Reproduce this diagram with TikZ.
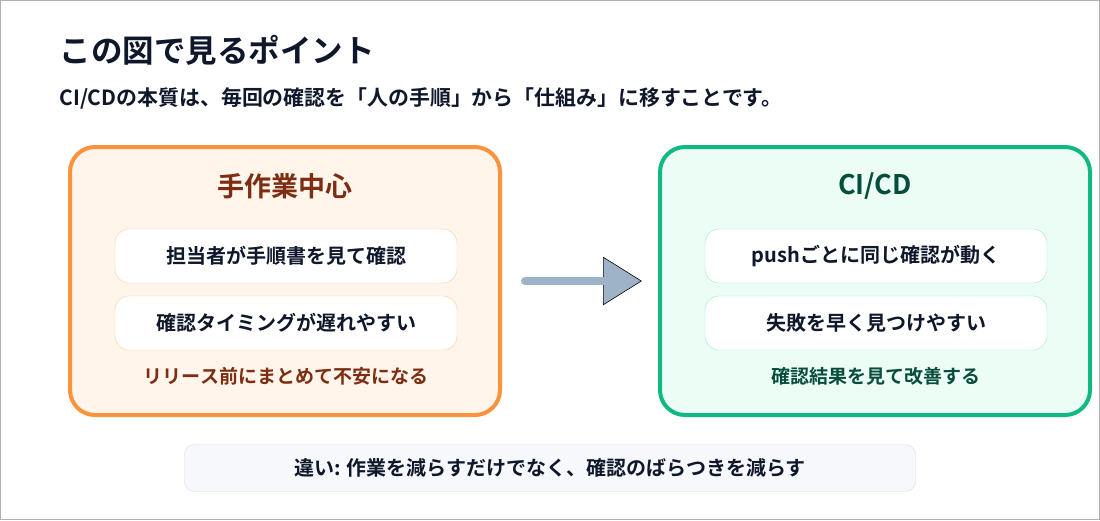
\documentclass[tikz,border=0pt]{standalone}
\usepackage{fontspec}
\setmainfont{Noto Sans CJK JP}[BoldFont={Noto Sans CJK JP Bold}]
\usetikzlibrary{shapes.geometric}
\definecolor{ink}{HTML}{0F172A}
\definecolor{orgline}{HTML}{FB923C}
\definecolor{orgfill}{HTML}{FFF5EB}
\definecolor{orgsoft}{HTML}{FDCB94}
\definecolor{orgtext}{HTML}{7C2D12}
\definecolor{grnline}{HTML}{10B981}
\definecolor{grnfill}{HTML}{ECFDF5}
\definecolor{grnsoft}{HTML}{98EBC8}
\definecolor{grntext}{HTML}{064E3B}
\definecolor{arrowgray}{HTML}{9FB3C8}
\definecolor{notefill}{HTML}{F6F8FB}
\definecolor{noteline}{HTML}{D3DBE5}
\tikzstyle{panel}=[
        rounded corners = 25pt,
        line width = 4pt,
        minimum width = 430pt,
        minimum height = 268pt
    ]
\tikzstyle{item}=[
        draw,
        fill = white,
        rounded corners = 14pt,
        minimum width = 342pt,
        minimum height = 54pt,
        text = ink,
        font = \bfseries\fontsize{20pt}{24pt}\selectfont
    ]

\begin{document}
\begin{tikzpicture}[x=1pt, y=-1pt, head/.style = {font = \bfseries\fontsize{27pt}{32pt}\selectfont},
        foot/.style = {font = \bfseries\fontsize{19pt}{23pt}\selectfont}]
        \useasboundingbox (0,0) rectangle (1100,520);
        \draw[gray!60] (0.5,0.5) rectangle (1099.5,519.5);
        \node[anchor=west, text=ink, font=\bfseries\fontsize{31.5pt}{36pt}\selectfont] (title) at (56,50) {この図で見るポイント};
        \node[anchor=west, text=ink, font=\bfseries\fontsize{20.9pt}{24pt}\selectfont] (sub) at (56,98) {CI/CDの本質は、毎回の確認を「人の手順」から「仕組み」に移すことです。};

        \node[panel, draw = orgline, fill = orgfill] (L) at (285,281) {};
        \node[head, text = orgtext] (Lh) at (285,186) {手作業中心};
        \node[item, draw = orgsoft] (L1) at (286,256) {担当者が手順書を見て確認};
        \node[item, draw = orgsoft] (L2) at (286,323) {確認タイミングが遅れやすい};
        \node[foot, text = orgtext] (Lf) at (286,376) {リリース前にまとめて不安になる};

        \node[panel, draw = grnline, fill = grnfill] (R) at (875,281) {};
        \node[head, text = grntext] (Rh) at (875,186) {CI/CD};
        \node[item, draw = grnsoft] (R1) at (876,256) {pushごとに同じ確認が動く};
        \node[item, draw = grnsoft] (R2) at (876,323) {失敗を早く見つけやすい};
        \node[foot, text = grntext] (Rf) at (876,376) {確認結果を見て改善する};

        \coordinate (start) at (525,281);
        \node[isosceles triangle, isosceles triangle apex angle = 64, draw, semithick, fill = arrowgray,
              inner sep = 0pt, minimum height = 38pt, anchor = west] (tip) at (603,281) {};
        \draw[line width = 8pt, arrowgray, line cap = round] (start) -- (tip.west);

        \node[draw = noteline, fill = notefill, rounded corners = 10pt, minimum width = 731pt, minimum height = 47pt,
              text = ink, font = \bfseries\fontsize{20pt}{24pt}\selectfont] (note) at (550,468) {違い: 作業を減らすだけでなく、確認のばらつきを減らす};
    \end{tikzpicture}
\end{document}
